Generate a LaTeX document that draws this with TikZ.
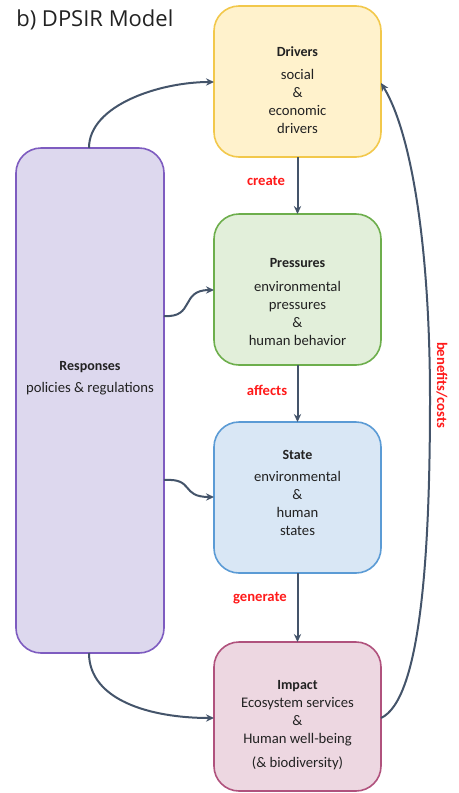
\documentclass[tikz,border=0pt]{standalone}
\usepackage{fontspec}
\setmainfont{Carlito}
\newfontfamily\titlefont{Open Sans}
\usetikzlibrary{arrows.meta}
\definecolor{arrowc}{HTML}{44546A}
\definecolor{txtc}{HTML}{222222}
\definecolor{lblred}{HTML}{FF1A1A}
\definecolor{drvfill}{HTML}{FFF2CC}
\definecolor{drvline}{HTML}{F2C84B}
\definecolor{prsfill}{HTML}{E2EFDA}
\definecolor{prsline}{HTML}{6DAE4C}
\definecolor{stafill}{HTML}{D9E7F5}
\definecolor{staline}{HTML}{5B9BD5}
\definecolor{impfill}{HTML}{EDD7E1}
\definecolor{impline}{HTML}{B0527D}
\definecolor{resfill}{HTML}{DDD8EE}
\definecolor{resline}{HTML}{7E5CC0}
\tikzset{
  boxnode/.style={rectangle, rounded corners=18.75pt, line width=1.2pt,
    minimum width=125.25pt, minimum height=113.25pt, inner sep=0pt, outer sep=0pt},
  txtnode/.style={align=center, text=txtc, font=\fontsize{11}{13.5}\selectfont, inner sep=0pt},
  conn/.style={draw=arrowc, line width=1.5pt, -{Stealth[length=6pt,width=5.5pt]}},
  lbl/.style={text=lblred, font=\bfseries\fontsize{11}{12}\selectfont, inner sep=0pt}
}
\begin{document}
\begin{tikzpicture}[x=0.75pt,y=-0.75pt]
\useasboundingbox (0,0) rectangle (459,793);
% title
\node[anchor=west, inner sep=0pt, text=txtc, font=\titlefont\fontsize{16.5}{19}\selectfont] (title) at (16,20) {b) DPSIR Model};
% boxes
\node[boxnode, fill=drvfill, draw=drvline] (drv) at (297.5,81.5) {};
\node[boxnode, fill=prsfill, draw=prsline] (prs) at (297.5,289.5) {};
\node[boxnode, fill=stafill, draw=staline] (sta) at (297.5,497.5) {};
\node[boxnode, fill=impfill, draw=impline, minimum height=111.75pt] (imp) at (297.5,716.5) {};
\node[boxnode, fill=resfill, draw=resline, minimum width=111pt, minimum height=378.75pt] (res) at (90,400.5) {};
% texts
\node[txtnode] (drvt) at (297.5,90) {{\fontsize{10.5}{13.5}\selectfont\textbf{Drivers}}\\[4pt]social\\\&\\economic\\drivers};
\node[txtnode] (prst) at (297.5,302) {{\fontsize{10.5}{13.5}\selectfont\textbf{Pressures}}\\[4pt]environmental\\pressures\\\&\\human behavior};
\node[txtnode] (stat) at (297.5,493) {{\fontsize{10.5}{13.5}\selectfont\textbf{State}}\\[3pt]environmental\\\&\\human\\states};
\node[txtnode] (impt) at (297.5,725) {{\fontsize{10.5}{13.5}\selectfont\textbf{Impact}}\\Ecosystem services\\\&\\Human well-being\\[5pt](\& biodiversity)};
\node[txtnode] (rest) at (90,378) {{\fontsize{10.5}{13.5}\selectfont\textbf{Responses}}\\[3pt]policies \& regulations};
% vertical chain
\draw[conn] (drv.south) -- (prs.north);
\draw[conn] (prs.south) -- (sta.north);
\draw[conn] (sta.south) -- (imp.north);
\node[lbl] (lc) at (266,181) {create};
\node[lbl] (la) at (267,390) {affects};
\node[lbl] (lg) at (260,598) {generate};
% responses arrows
\coordinate (r1) at (89,148);
\coordinate (d1) at (214,82);
\draw[conn] (r1) .. controls (89,105) and (160,82) .. (d1);
\coordinate (r2) at (164,316);
\coordinate (p1) at (214,290);
\draw[conn] (r2) .. controls (195,318) and (180,290) .. (p1);
\coordinate (r3) at (164,480);
\coordinate (s1) at (214,497);
\draw[conn] (r3) .. controls (195,478) and (180,497) .. (s1);
\coordinate (r4) at (89,653);
\coordinate (i1) at (214,718);
\draw[conn] (r4) .. controls (89,700) and (150,718) .. (i1);
% feedback
\coordinate (i2) at (381,718);
\coordinate (fb) at (430,400);
\coordinate (d2) at (381,83);
\draw[conn] (i2) .. controls (420,700) and (430,560) .. (fb) .. controls (430,240) and (410,130) .. (d2);
\node[lbl, rotate=-90] (lb) at (442,385) {benefits/costs};
\end{tikzpicture}
\end{document}
